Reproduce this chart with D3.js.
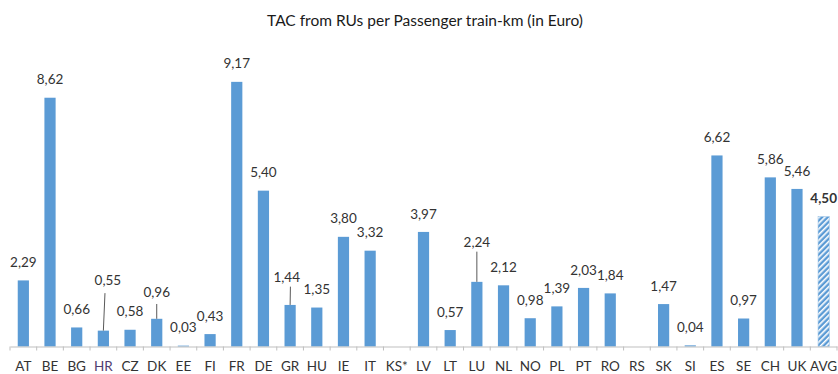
<!DOCTYPE html>
<html>
<head>
<meta charset="utf-8">
<script src="https://cdn.jsdelivr.net/npm/d3@7"></script>
<style>
  html, body { margin: 0; padding: 0; background: #fff; }
  svg { display: block; font-family: Lato, "Noto Sans", sans-serif; }
</style>
</head>
<body>
<svg id="chart" width="838" height="374"></svg>
<script>
// Track access charges per passenger train-km, by country (Euro)
const countries = ["AT","BE","BG","HR","CZ","DK","EE","FI","FR","DE","GR","HU","IE","IT","KS*","LV","LT","LU","NL","NO","PL","PT","RO","RS","SK","SI","ES","SE","CH","UK","AVG"];
const charges = [2.29,8.62,0.66,0.55,0.58,0.96,0.03,0.43,9.17,5.40,1.44,1.35,3.80,3.32,null,3.97,0.57,2.24,2.12,0.98,1.39,2.03,1.84,null,1.47,0.04,6.62,0.97,5.86,5.46,4.50];
const averageKey = "AVG";
const titleText = "TAC from RUs per Passenger train-km (in Euro)";

// Labels lifted away from crowded bars, joined to the bar by a leader line
const callouts = {
  "HR": { dx: 4.5, dy: -50.5, lineTop: -37.5 },
  "DK": { dx: 0,   dy: -26.8, lineTop: -14.8 },
  "GR": { dx: -3.4, dy: -28.3, lineTop: -18.3 },
  "LU": { dx: 0,   dy: -40.2, lineTop: -30.2 }
};

const svg = d3.select("#chart");
const baseY = 346.5;

const x = d3.scaleBand()
  .domain(countries)
  .range([10, 837])
  .paddingInner(0.58)
  .paddingOuter(0.29);

const y = d3.scaleLinear().domain([0, 10]).range([baseY, 57.9]);

const barColor = "#5b9bd5";
const textColor = "#333333";

// Hatched fill for the average bar
const defs = svg.append("defs");
const pat = defs.append("pattern")
  .attr("id", "hatch")
  .attr("patternUnits", "userSpaceOnUse")
  .attr("width", 4).attr("height", 4)
  .attr("patternTransform", "rotate(45)");
pat.append("rect").attr("width", 4).attr("height", 4).attr("fill", barColor);
pat.append("rect").attr("x", 0).attr("width", 1.6).attr("height", 4).attr("fill", "#ffffff");

// Title
svg.append("text")
  .attr("x", 425).attr("y", 20)
  .attr("text-anchor", "middle")
  .attr("dominant-baseline", "central")
  .attr("font-size", 15.5)
  .attr("fill", "#1a1a1a")
  .text(titleText);

const rows = countries.map((c, i) => ({ c, v: charges[i] })).filter(d => d.v != null);

// Bars
svg.append("g").selectAll("rect")
  .data(rows)
  .join("rect")
  .attr("x", d => x(d.c))
  .attr("width", x.bandwidth())
  .attr("y", d => y(d.v))
  .attr("height", d => baseY - y(d.v))
  .attr("fill", d => d.c === averageKey ? "url(#hatch)" : barColor)
  .attr("stroke", d => d.c === averageKey ? "#9dc3e6" : "none")
  .attr("stroke-width", 0.6);

// Leader lines
svg.append("g").selectAll("line")
  .data(rows.filter(d => callouts[d.c]))
  .join("line")
  .attr("x1", d => x(d.c) + x.bandwidth() / 2 + (callouts[d.c].dx > 2 ? 1.6 : callouts[d.c].dx < -2 ? 0.3 : 0))
  .attr("y1", d => y(d.v) + callouts[d.c].lineTop)
  .attr("x2", d => x(d.c) + x.bandwidth() / 2)
  .attr("y2", d => y(d.v))
  .attr("stroke", "#595959")
  .attr("stroke-width", 1);

// Value labels (decimal comma)
const fmt = v => v.toFixed(2).replace(".", ",");
svg.append("g").selectAll("text")
  .data(rows)
  .join("text")
  .attr("x", d => x(d.c) + x.bandwidth() / 2 + (callouts[d.c] ? callouts[d.c].dx : 0))
  .attr("y", d => y(d.v) + (callouts[d.c] ? callouts[d.c].dy : -18.4))
  .attr("text-anchor", "middle")
  .attr("dominant-baseline", "central")
  .attr("font-size", 13.5)
  .attr("font-weight", d => d.c === averageKey ? "bold" : "normal")
  .attr("fill", textColor)
  .text(d => fmt(d.v));

// Category axis with ticks on the band boundaries
const axisG = svg.append("g").attr("transform", `translate(0,${baseY})`);
axisG.call(d3.axisBottom(x).tickSize(0).tickPadding(15));
axisG.select(".domain").attr("stroke", "#bfbfbf").attr("stroke-width", 1);
axisG.selectAll(".tick text")
  .attr("font-family", "Lato, 'Noto Sans', sans-serif")
  .attr("font-size", 13.5)
  .attr("fill", d => d === "HR" ? "#4f3d70" : textColor);

const step = x.step();
const boundaries = d3.range(countries.length + 1).map(i => x.range()[0] + i * step);
axisG.selectAll("line.boundary")
  .data(boundaries)
  .join("line")
  .attr("class", "boundary")
  .attr("x1", d => d).attr("x2", d => d)
  .attr("y1", 0).attr("y2", 4)
  .attr("stroke", "#bfbfbf");
</script>
</body>
</html>
